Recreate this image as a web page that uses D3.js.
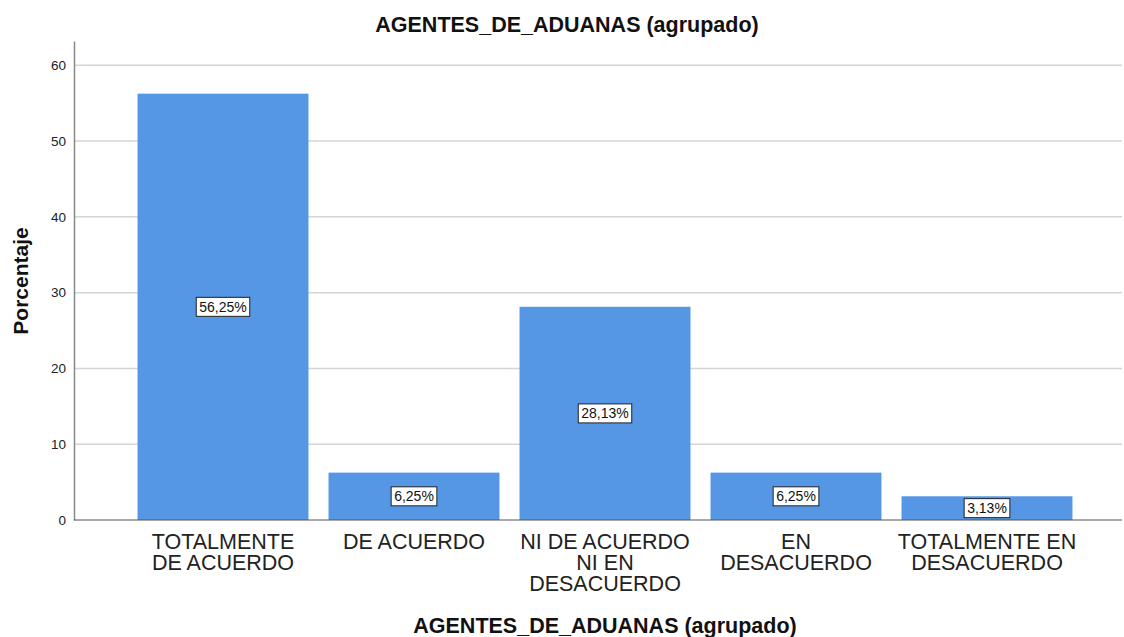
<!DOCTYPE html>
<html>
<head>
<meta charset="utf-8">
<script src="https://cdn.jsdelivr.net/npm/d3@7"></script>
<style>
body { margin: 0; background: #fff; }
text { font-family: Arial, "Liberation Sans", sans-serif; }
</style>
</head>
<body>
<svg id="chart" width="1124" height="637"></svg>
<script>
var categories = [
    ['TOTALMENTE', 'DE ACUERDO'],
    ['DE ACUERDO'],
    ['NI DE ACUERDO', 'NI EN', 'DESACUERDO'],
    ['EN', 'DESACUERDO'],
    ['TOTALMENTE EN', 'DESACUERDO']
];
var values = [56.25, 6.25, 28.13, 6.25, 3.13];
var valueLabels = ['56,25%', '6,25%', '28,13%', '6,25%', '3,13%'];
var yTicks = [0, 10, 20, 30, 40, 50, 60];

var svg = d3.select('#chart');
var plotLeft = 74, plotRight = 1122, plotTop = 41, plotBottom = 520;

var x = d3.scaleBand()
    .domain(d3.range(values.length))
    .range([127.5, 1082.5])
    .paddingInner(0.105)
    .paddingOuter(0.0525);
var y = d3.scaleLinear().domain([0, 63.2]).range([plotBottom, plotTop]);

// grid lines
svg.append('g').selectAll('line').data(yTicks.slice(1)).enter().append('line')
    .attr('x1', plotLeft).attr('x2', plotRight)
    .attr('y1', function(d) { return y(d); }).attr('y2', function(d) { return y(d); })
    .attr('stroke', '#d4d4d4').attr('stroke-width', 1.5);

// bars
svg.append('g').selectAll('rect').data(values).enter().append('rect')
    .attr('x', function(d, i) { return x(i); })
    .attr('width', x.bandwidth())
    .attr('y', function(d) { return y(d); })
    .attr('height', function(d) { return plotBottom - y(d); })
    .attr('fill', '#5596e5');

// y axis
var yAxis = d3.axisLeft(y).tickValues(yTicks).tickSize(0).tickPadding(8);
var ga = svg.append('g').attr('transform', 'translate(' + plotLeft + ',0)').call(yAxis);
ga.select('.domain').attr('stroke', '#888').attr('stroke-width', 1.5);
ga.selectAll('text').style('font-size', '13.5px').attr('fill', '#222')
    .style('font-family', 'Arial, "Liberation Sans", sans-serif');

// x axis line
svg.append('line').attr('x1', plotLeft).attr('x2', plotRight)
    .attr('y1', plotBottom).attr('y2', plotBottom)
    .attr('stroke', '#555').attr('stroke-width', 1.2);

// category labels
var cl = svg.append('g').selectAll('text').data(categories).enter().append('text')
    .attr('text-anchor', 'middle')
    .attr('fill', '#222')
    .style('font-size', '21.5px')
    .attr('x', function(d, i) { return x(i) + x.bandwidth() / 2; })
    .attr('y', 549);
cl.selectAll('tspan').data(function(d) { return d; }).enter().append('tspan')
    .attr('x', function() { return d3.select(this.parentNode).attr('x'); })
    .attr('dy', function(d, i) { return i === 0 ? 0 : 21; })
    .text(function(d) { return d; });

// value labels
var vl = svg.append('g').selectAll('g').data(values).enter().append('g')
    .attr('transform', function(d, i) {
        var cy = Math.min(y(d / 2), plotBottom - 10);
        return 'translate(' + (x(i) + x.bandwidth() / 2) + ',' + cy + ')';
    });
vl.append('text')
    .attr('text-anchor', 'middle')
    .attr('dy', '0.36em')
    .style('font-size', '14px')
    .attr('fill', '#111')
    .text(function(d, i) { return valueLabels[i]; });
vl.each(function() {
    var g = d3.select(this);
    var bb = g.select('text').node().getBBox();
    g.insert('rect', 'text')
        .attr('x', bb.x - 3).attr('y', -9.5)
        .attr('width', bb.width + 6).attr('height', 19)
        .attr('fill', '#fff').attr('stroke', '#222').attr('stroke-width', 1);
});

// titles
svg.append('text').attr('x', 567).attr('y', 32).attr('text-anchor', 'middle')
    .style('font-size', '21.5px').style('font-weight', 'bold').attr('fill', '#111')
    .text('AGENTES_DE_ADUANAS (agrupado)');
svg.append('text').attr('x', 605).attr('y', 633).attr('text-anchor', 'middle')
    .style('font-size', '21.5px').style('font-weight', 'bold').attr('fill', '#111')
    .text('AGENTES_DE_ADUANAS (agrupado)');
svg.append('text').attr('transform', 'translate(28,281) rotate(-90)')
    .attr('text-anchor', 'middle')
    .style('font-size', '21px').style('font-weight', 'bold').attr('fill', '#111')
    .text('Porcentaje');
</script>
</body>
</html>
